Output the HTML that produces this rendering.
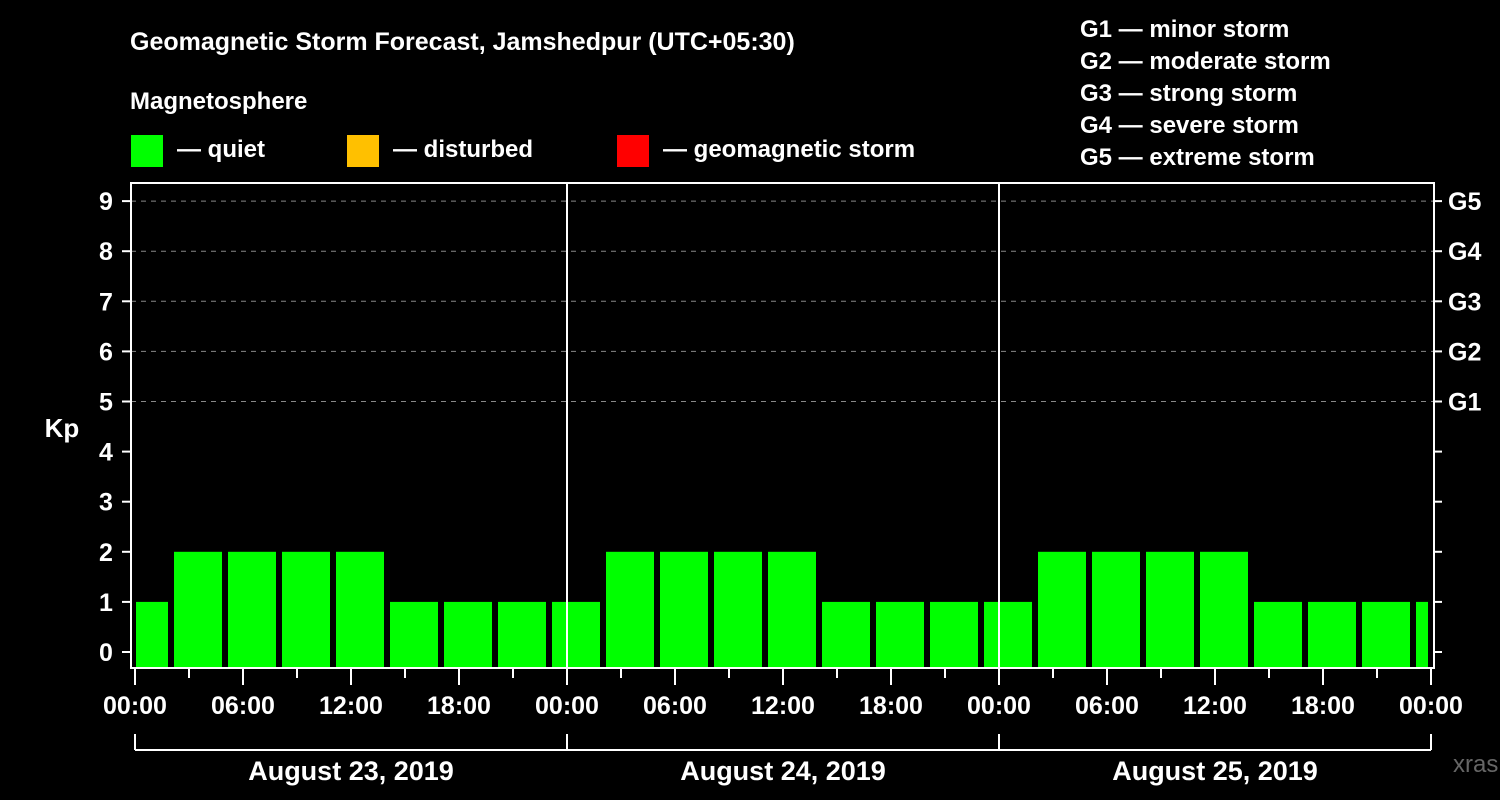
<!DOCTYPE html>
<html><head><meta charset="utf-8"><style>
body{margin:0;background:#000;}
svg{display:block;font-family:"Liberation Sans",Arial,sans-serif;font-weight:bold;}
</style></head><body>
<svg width="1500" height="800" viewBox="0 0 1500 800">
<rect width="1500" height="800" fill="#000"/>
<text x="130" y="50" fill="#fff" font-size="25">Geomagnetic Storm Forecast, Jamshedpur (UTC+05:30)</text>
<text x="130" y="109" fill="#fff" font-size="24">Magnetosphere</text>
<g><rect x="131" y="135" width="32" height="32" fill="#00ff00"/><text x="177" y="157" fill="#fff" font-size="24">— quiet</text></g>
<g><rect x="347" y="135" width="32" height="32" fill="#ffc000"/><text x="393" y="157" fill="#fff" font-size="24">— disturbed</text></g>
<g><rect x="617" y="135" width="32" height="32" fill="#ff0000"/><text x="663" y="157" fill="#fff" font-size="24">— geomagnetic storm</text></g>
<g fill="#fff" font-size="24">
<text x="1080" y="37">G1 — minor storm</text>
<text x="1080" y="69">G2 — moderate storm</text>
<text x="1080" y="101">G3 — strong storm</text>
<text x="1080" y="133">G4 — severe storm</text>
<text x="1080" y="165">G5 — extreme storm</text>
</g>
<text x="62" y="437" fill="#fff" font-size="26" text-anchor="middle">Kp</text>
<text x="1453" y="772" fill="#666" font-size="24" text-anchor="start" font-weight="normal">xras.ru</text>
<g id="plot"></g>
</svg>
<script>
const kpValues=[1,2,2,2,2,1,1,1,1,2,2,2,2,1,1,1,1,2,2,2,2,1,1,1,1];
const barStartHours=[-1,2,5,8,11,14,17,20,23,26,29,32,35,38,41,44,47,50,53,56,59,62,65,68,71];
const yTicks=[0,1,2,3,4,5,6,7,8,9];
const gLabels=["G1","G2","G3","G4","G5"];
const timeLabels=["00:00","06:00","12:00","18:00"];
const dayLabels=["August 23, 2019","August 24, 2019","August 25, 2019"];
const NS="http://www.w3.org/2000/svg";
const plot=document.getElementById('plot');
const X0=135,PX_H=18,L=131,R=1434,T=183,B=668;
const xs=h=>X0+h*PX_H;
const ys=v=>652-v*50.1;
function mk(t,a,p){const e=document.createElementNS(NS,t);for(const k in a)e.setAttribute(k,a[k]);(p||plot).appendChild(e);return e;}
// grid
for(let v=5;v<=9;v++){
 const g=mk('line',{x1:L,x2:R,y1:ys(v),y2:ys(v),stroke:'#888','stroke-width':1,'stroke-dasharray':'5,5'});
 
 
}
// bars
kpValues.forEach((v,i)=>{
 let x1=Math.max(xs(barStartHours[i])+3,136),x2=Math.min(xs(barStartHours[i]+3)-3,1428);
 const c=v>=5?'#ff0000':(v>=4?'#ffc000':'#00ff00');
 const r=mk('rect',{x:x1,y:ys(v),width:x2-x1,height:B-ys(v),fill:c});
 
 
});
// frame
const fr=mk('rect',{x:L,y:T,width:R-L,height:B-T,fill:'none',stroke:'#fff','stroke-width':2});


for(let d=1;d<3;d++){
 const l=mk('line',{x1:xs(24*d),x2:xs(24*d),y1:T,y2:B,stroke:'#fff','stroke-width':2});
 
 
}
// y ticks
yTicks.forEach(v=>{
 mk('line',{x1:122,x2:L,y1:ys(v),y2:ys(v),stroke:'#fff','stroke-width':2});
 mk('line',{x1:R,x2:R+8,y1:ys(v),y2:ys(v),stroke:'#fff','stroke-width':2});
 const t=mk('text',{x:106,y:ys(v)+9,fill:'#fff','font-size':25,'text-anchor':'middle'});t.textContent=v;
 
 
});
gLabels.forEach((g,i)=>{
 const t=mk('text',{x:1448,y:ys(5+i)+9,fill:'#fff','font-size':25});t.textContent=g;
 
 
});
// x ticks
for(let h=0;h<=72;h+=3){
 const major=h%6===0;
 mk('line',{x1:xs(h),x2:xs(h),y1:B,y2:B+(major?17:10),stroke:'#fff','stroke-width':2});
 if(major){
  const t=mk('text',{x:xs(h),y:714,fill:'#fff','font-size':25,'text-anchor':'middle'});
  t.textContent=timeLabels[(h/6)%4];
  
  
 }
}
mk('line',{x1:xs(0),x2:xs(72),y1:750,y2:750,stroke:'#fff','stroke-width':2});
for(let d=0;d<=3;d++)mk('line',{x1:xs(24*d),x2:xs(24*d),y1:734,y2:750,stroke:'#fff','stroke-width':2});
dayLabels.forEach((s,d)=>{
 const t=mk('text',{x:xs(24*d+12),y:780,fill:'#fff','font-size':27,'text-anchor':'middle'});t.textContent=s;
 
 
});
</script>
</body></html>
